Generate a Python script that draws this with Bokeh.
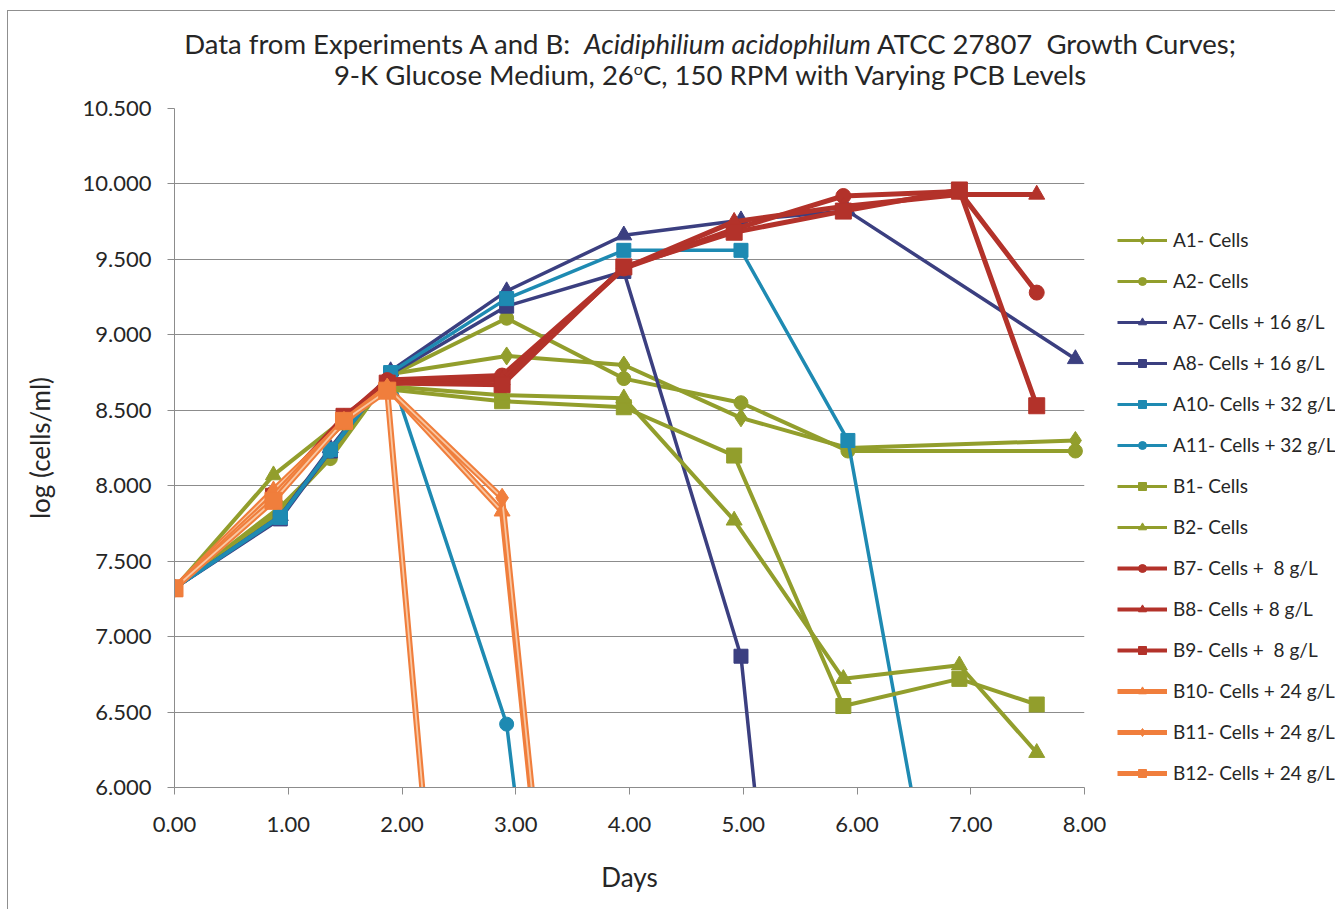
from bokeh.plotting import figure
from bokeh.layouts import column, row
from bokeh.models import (Legend, LegendItem, FixedTicker, PrintfTickFormatter,
                          Range1d, Div)
from bokeh.embed import file_html
from bokeh.resources import INLINE

NAN = float("nan")

# sampling days for the two experiments
A_DAYS = [0.00, 0.93, 1.37, 1.90, 2.92, 3.95, 4.98, 5.92, 7.92]
B_DAYS = [0.00, 0.87, 1.49, 1.87, 2.88, 3.95, 4.92, 5.88, 6.90, 7.58]

# log (cells/ml) per flask; 0 = no viable cells, NaN = not sampled
A1 = [7.32, 7.86, 8.19, 8.74, 8.86, 8.80, 8.45, 8.25, 8.30]
A2 = [7.32, 7.83, 8.18, 8.73, 9.11, 8.71, 8.55, 8.23, 8.23]
A7 = [7.32, 7.80, 8.25, 8.76, 9.29, 9.66, 9.76, 9.82, 8.84]
A8 = [7.32, 7.78, 8.23, 8.74, 9.19, 9.42, 6.87, 0.00, NAN]
A10 = [7.32, 7.79, 8.24, 8.75, 9.24, 9.56, 9.56, 8.30, 0.00]
A11 = [7.32, 7.80, 8.23, 8.74, 6.42, 0.00, NAN, NAN, NAN]
B1 = [7.32, 7.93, 8.42, 8.64, 8.56, 8.52, 8.20, 6.54, 6.72, 6.55]
B2 = [7.32, 8.07, 8.44, 8.66, 8.60, 8.58, 7.77, 6.72, 6.81, 6.23]
B7 = [7.32, 7.95, 8.45, 8.70, 8.73, 9.44, 9.70, 9.92, 9.95, 9.28]
B8 = [7.32, 7.95, 8.45, 8.68, 8.70, 9.44, 9.75, 9.85, 9.93, 9.93]
B9 = [7.32, 7.93, 8.46, 8.68, 8.67, 9.45, 9.68, 9.82, 9.96, 8.53]
B10 = [7.32, 7.97, 8.42, 8.65, 7.83, 0.00, NAN, NAN, NAN, NAN]
B11 = [7.32, 7.93, 8.43, 8.65, 7.92, 0.00, NAN, NAN, NAN, NAN]
B12 = [7.32, 7.90, 8.43, 8.63, 0.00, NAN, NAN, NAN, NAN, NAN]

X_TICKS = [0, 1, 2, 3, 4, 5, 6, 7, 8]
Y_TICKS = [6.0, 6.5, 7.0, 7.5, 8.0, 8.5, 9.0, 9.5, 10.0, 10.5]

OLIVE = "#929E2C"
NAVY = "#3B3F80"
TEAL = "#1E8AB2"
RED = "#B3322A"
ORANGE = "#F07E3C"
ORANGE_CORE = "#F9C7A2"
FRAME = "#8F8F8F"

FONT = "Lato"
INK = "#262626"

series = [
    ("A1- Cells", A_DAYS, A1, OLIVE, "diamond", 18, 4),
    ("A2- Cells", A_DAYS, A2, OLIVE, "circle", 14, 4),
    ("A7- Cells + 16 g/L", A_DAYS, A7, NAVY, "triangle", 16, 3.5),
    ("A8- Cells + 16 g/L", A_DAYS, A8, NAVY, "square", 14, 3.5),
    ("A10- Cells + 32 g/L", A_DAYS, A10, TEAL, "square", 14, 3.5),
    ("A11- Cells + 32 g/L", A_DAYS, A11, TEAL, "circle", 14, 3.5),
    ("B1- Cells", B_DAYS, B1, OLIVE, "square", 15, 4),
    ("B2- Cells", B_DAYS, B2, OLIVE, "triangle", 16, 4),
    ("B7- Cells +  8 g/L", B_DAYS, B7, RED, "circle", 15, 5),
    ("B8- Cells + 8 g/L", B_DAYS, B8, RED, "triangle", 16, 5),
    ("B9- Cells +  8 g/L", B_DAYS, B9, RED, "square", 16, 5),
    ("B10- Cells + 24 g/L", B_DAYS, B10, ORANGE, "triangle", 16, 6),
    ("B11- Cells + 24 g/L", B_DAYS, B11, ORANGE, "diamond", 19, 6),
    ("B12- Cells + 24 g/L", B_DAYS, B12, ORANGE, "square", 17, 6),
]

W, H = 1335, 909
HEAD = 90          # title block height
PLOT_W = 1110      # main plot width; the legend column takes the rest
LEFT, RIGHT, TOP, BOTTOM = 174, 26, 18, 122

left_rule = ("linear-gradient(to right, transparent 7px, %s 7px, %s 8.5px, "
             "transparent 8.5px), white" % (FRAME, FRAME))

p = figure(width=PLOT_W, height=H - HEAD, output_backend="svg",
           toolbar_location=None,
           x_range=Range1d(0, 8), y_range=Range1d(6, 10.5),
           min_border_left=LEFT, min_border_right=RIGHT,
           min_border_top=TOP, min_border_bottom=BOTTOM, margin=0,
           styles={"background": left_rule})
p.outline_line_color = None
p.background_fill_color = "white"
p.border_fill_alpha = 0

# legend lives in its own narrow figure to the right of the plot
leg = figure(width=W - PLOT_W, height=H - HEAD, output_backend="svg",
             toolbar_location=None, x_axis_type=None, y_axis_type=None,
             x_range=Range1d(0, 1), y_range=Range1d(0, 1),
             min_border=0, margin=0)
leg.outline_line_color = None
leg.xgrid.grid_line_color = None
leg.ygrid.grid_line_color = None

items = []
for label, xs, ys, color, marker, size, lw in series:
    p.line(xs, ys, line_color=color, line_width=lw)
    if color == ORANGE:
        # lighter core gives these lines their outlined look
        p.line(xs, ys, line_color=ORANGE_CORE, line_width=1.8)
    p.scatter(xs, ys, marker=marker, size=size, fill_color=color,
              line_color=color)
    # legend swatches: a single missing point, only the styling is shown
    ln = leg.line([NAN], [NAN], line_color=color, line_width=lw * 0.8)
    sc = leg.scatter([NAN], [NAN], marker=marker, size=size * 0.7,
                     fill_color=color, line_color=color)
    items.append(LegendItem(label=label, renderers=[ln, sc]))

legend = Legend(items=items, location=(7, 3), padding=0, margin=0,
                border_line_alpha=0, background_fill_alpha=0,
                label_text_font=FONT, label_text_font_size="19px",
                label_text_color=INK, glyph_width=50, glyph_height=20,
                label_height=20, spacing=18, label_standoff=6)
leg.add_layout(legend, "center")

# axes
for ax in (p.xaxis[0], p.yaxis[0]):
    ax.axis_line_color = "#8C8C8C"
    ax.major_tick_line_color = "#8C8C8C"
    ax.minor_tick_line_color = None
    ax.major_tick_in = 0
    ax.major_tick_out = 7
    ax.major_label_text_font = FONT
    ax.major_label_text_font_size = "22px"
    ax.major_label_text_color = INK
    ax.axis_label_text_font = FONT
    ax.axis_label_text_font_style = "normal"
    ax.axis_label_text_color = INK
    ax.axis_label_text_font_size = "26px"

p.xaxis.ticker = FixedTicker(ticks=X_TICKS)
p.xaxis.formatter = PrintfTickFormatter(format="%.2f")
p.xaxis.major_label_standoff = 22
p.xaxis.axis_label = "Days"
p.xaxis.axis_label_standoff = 26

p.yaxis.ticker = FixedTicker(ticks=Y_TICKS)
p.yaxis.formatter = PrintfTickFormatter(format="%.3f")
p.yaxis.major_label_standoff = 16
p.yaxis.axis_label = "log (cells/ml)"
p.yaxis.axis_label_standoff = 24

p.xgrid.grid_line_color = None
p.ygrid.grid_line_color = "#8C8C8C"
p.ygrid.grid_line_width = 1

# two-line title with the species name in italics, plus the chart-area frame
title_html = (
    '<div style="position:absolute;left:7px;top:10px;width:1400px;height:200px;'
    'border-left:1.5px solid %s;border-top:1.5px solid %s;"></div>'
    '<div style="position:absolute;left:85px;top:28px;width:1250px;'
    'text-align:center;font-family:Lato;font-size:27.5px;line-height:31px;'
    'color:#262626;white-space:nowrap;">'
    'Data from Experiments A and B:&nbsp; <i>Acidiphilium acidophilum</i> '
    'ATCC 27807&nbsp; Growth Curves;<br>'
    '9-K Glucose Medium, 26<sup style="font-size:16px;line-height:0">o</sup>C, '
    '150 RPM with Varying PCB Levels</div>'
) % (FRAME, FRAME)
head = Div(text=title_html, width=W, height=HEAD, margin=0,
           styles={"position": "relative", "overflow": "hidden"})

layout = column(head, row(p, leg, margin=0, spacing=0), margin=0, spacing=0)

open("out.html", "w").write(file_html(layout, INLINE))
